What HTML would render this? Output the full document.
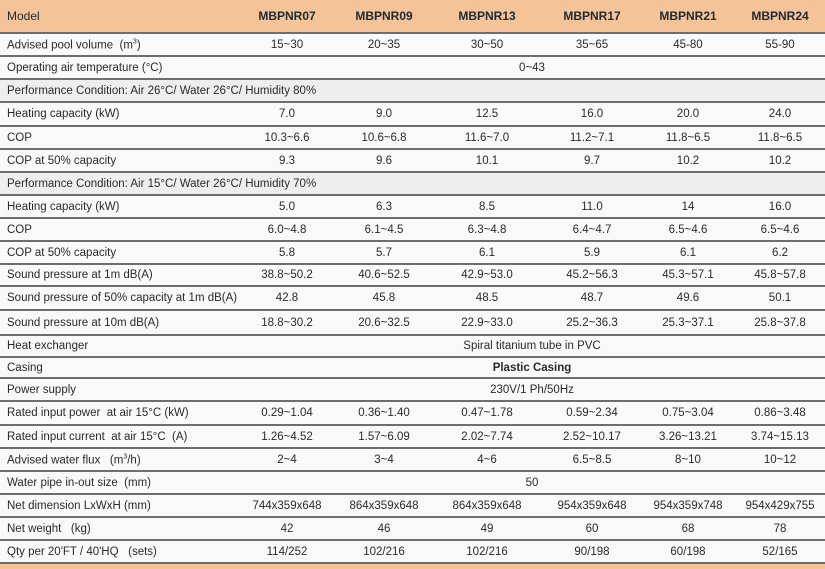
<!DOCTYPE html>
<html><head><meta charset="utf-8"><style>
*{margin:0;padding:0;box-sizing:border-box}
body{width:825px;height:569px;background:#fff;font-family:"Liberation Sans",sans-serif;color:#2a2a2a;overflow:hidden;position:relative}
.r{position:absolute;left:0;width:825px;border-bottom:2px solid #6e6e6e;background:#f8f9f8;font-size:11.5px}
.r.g{background:#eeeeee}
.r span{position:absolute;top:50%;transform:translate(-50%,-50%);white-space:nowrap}
.r span.l{left:7px;transform:translateY(-50%)}
.h{background:#f4c398;font-size:12px;color:#1e2a33;font-weight:bold}
.h span.l{font-weight:normal}
sup{font-size:7px}
</style></head><body>
<div id="c"></div>
<script>
const cx=[287,384,487,592,688,780];
const rows=[
["Model",["MBPNR07","MBPNR09","MBPNR13","MBPNR17","MBPNR21","MBPNR24"],0,34,"h"],
["Advised pool volume &nbsp;(m<sup>3</sup>)",["15~30","20~35","30~50","35~65","45-80","55-90"],34,57],
["Operating air temperature (°C)","0~43",57,80],
["Performance Condition: Air 26°C/ Water 26°C/ Humidity 80%",null,80,103,"g"],
["Heating capacity (kW)",["7.0","9.0","12.5","16.0","20.0","24.0"],103,127],
["COP",["10.3~6.6","10.6~6.8","11.6~7.0","11.2~7.1","11.8~6.5","11.8~6.5"],127,150],
["COP at 50% capacity",["9.3","9.6","10.1","9.7","10.2","10.2"],150,173],
["Performance Condition: Air 15°C/ Water 26°C/ Humidity 70%",null,173,196,"g"],
["Heating capacity (kW)",["5.0","6.3","8.5","11.0","14","16.0"],196,219],
["COP",["6.0~4.8","6.1~4.5","6.3~4.8","6.4~4.7","6.5~4.6","6.5~4.6"],219,242],
["COP at 50% capacity",["5.8","5.7","6.1","5.9","6.1","6.2"],242,265],
["Sound pressure at 1m dB(A)",["38.8~50.2","40.6~52.5","42.9~53.0","45.2~56.3","45.3~57.1","45.8~57.8"],265,287],
["Sound pressure of 50% capacity at 1m dB(A)",["42.8","45.8","48.5","48.7","49.6","50.1"],287,311],
["Sound pressure at 10m dB(A)",["18.8~30.2","20.6~32.5","22.9~33.0","25.2~36.3","25.3~37.1","25.8~37.8"],311,336],
["Heat exchanger","Spiral titanium tube in PVC",336,358],
["Casing","<b>Plastic Casing</b>",358,379],
["Power supply","230V/1 Ph/50Hz",379,402],
["Rated input power &nbsp;at air 15°C (kW)",["0.29~1.04","0.36~1.40","0.47~1.78","0.59~2.34","0.75~3.04","0.86~3.48"],402,426],
["Rated input current &nbsp;at air 15°C &nbsp;(A)",["1.26~4.52","1.57~6.09","2.02~7.74","2.52~10.17","3.26~13.21","3.74~15.13"],426,449],
["Advised water flux &nbsp;&nbsp;(m<sup>3</sup>/h)",["2~4","3~4","4~6","6.5~8.5","8~10","10~12"],449,472],
["Water pipe in-out size &nbsp;(mm)","50",472,495],
["Net dimension LxWxH (mm)",["744x359x648","864x359x648","864x359x648","954x359x648","954x359x748","954x429x755"],495,518],
["Net weight &nbsp;&nbsp;(kg)",["42","46","49","60","68","78"],518,541],
["Qty per 20'FT / 40'HQ &nbsp;&nbsp;(sets)",["114/252","102/216","102/216","90/198","60/198","52/165"],541,564]
];
let h='';
for(const [lab,v,t,b,cl] of rows){
 h+=`<div class="r ${cl||''}" style="top:${t}px;height:${b-t}px"><span class="l">${lab}</span>`;
 if(Array.isArray(v)) v.forEach((s,i)=>h+=`<span style="left:${cx[i]}px">${s}</span>`);
 else if(v) h+=`<span style="left:532px">${v}</span>`;
 h+='</div>';
}
h+='<div style="position:absolute;left:0;top:564px;width:825px;height:5px;background:#f4c398"></div>';
document.getElementById('c').innerHTML=h;
</script>
</body></html>
